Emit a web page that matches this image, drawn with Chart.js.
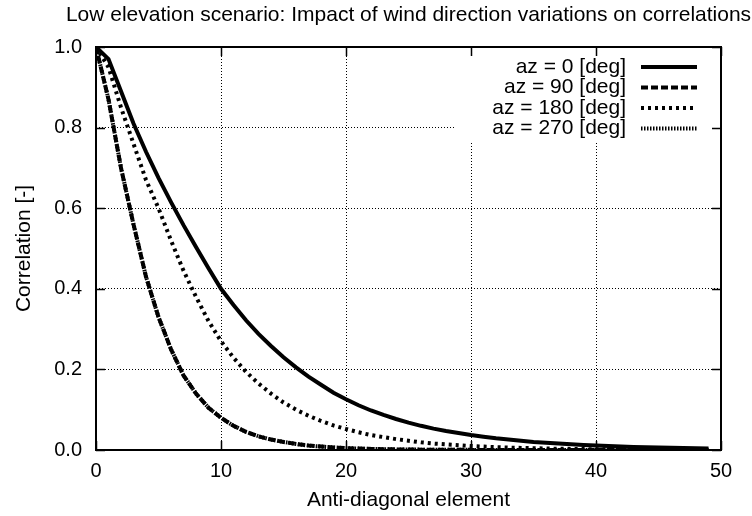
<!DOCTYPE html>
<html>
<head>
<meta charset="utf-8">
<script src="https://cdn.jsdelivr.net/npm/chart.js@4/dist/chart.umd.min.js"></script>
<style>
  html, body { margin: 0; padding: 0; background: #fff; }
  #wrap { width: 752px; height: 516px; }
</style>
</head>
<body>
<div id="wrap"><canvas id="corrChart" width="752" height="516"></canvas></div>
<script>
// Low elevation scenario: correlation vs anti-diagonal element, one series per wind azimuth
const chartTitle = 'Low elevation scenario: Impact of wind direction variations on correlations';
const elements = [0, 1, 2, 3, 4, 5, 6, 7, 8, 9, 10, 11, 12, 13, 14, 15, 16, 17, 18, 19,
  20, 21, 22, 23, 24, 25, 26, 27, 28, 29, 30, 31, 32, 33, 34, 35, 36, 37, 38, 39,
  40, 41, 42, 43, 44, 45, 46, 47, 48, 49];
const seriesLabels = ['az = 0 [deg]', 'az = 90 [deg]', 'az = 180 [deg]', 'az = 270 [deg]'];
const xTicks = [0, 10, 20, 30, 40, 50];
const yTicks = [0.0, 0.2, 0.4, 0.6, 0.8, 1.0];

const az0 = [1.0, 0.97, 0.89, 0.81, 0.74, 0.675, 0.615, 0.558, 0.504, 0.451, 0.40, 0.36, 0.322, 0.288, 0.258, 0.23, 0.205, 0.182, 0.162, 0.142,
  0.126, 0.111, 0.098, 0.087, 0.077, 0.068, 0.06, 0.053, 0.047, 0.042, 0.037, 0.033, 0.029, 0.026, 0.023, 0.020, 0.018, 0.016, 0.014, 0.0125,
  0.011, 0.0098, 0.0087, 0.0077, 0.0068, 0.006, 0.0054, 0.0048, 0.0042, 0.0037];
const az90 = [1.0, 0.87, 0.70, 0.56, 0.43, 0.33, 0.25, 0.185, 0.14, 0.105, 0.08, 0.06, 0.045, 0.034, 0.026, 0.02, 0.015, 0.011, 0.0085, 0.0064,
  0.0048, 0.0036, 0.0027, 0.002, 0.0015, 0.0011, 0.0009, 0.0007, 0.0005, 0.0004, 0.0003, 0.0002, 0.0002, 0.0001, 0.0001, 0.0001, 0, 0, 0, 0,
  0, 0, 0, 0, 0, 0, 0, 0, 0, 0];
const az180 = [1.0, 0.95, 0.85, 0.76, 0.67, 0.60, 0.52, 0.445, 0.38, 0.32, 0.27, 0.229, 0.194, 0.165, 0.14, 0.118, 0.10, 0.085, 0.072, 0.061,
  0.052, 0.044, 0.037, 0.032, 0.027, 0.023, 0.019, 0.016, 0.014, 0.012, 0.010, 0.0085, 0.0072, 0.0061, 0.0052, 0.0044, 0.0037, 0.0031, 0.0027, 0.0023,
  0.0019, 0.0016, 0.0014, 0.0012, 0.001, 0.0008, 0.0007, 0.0006, 0.0005, 0.0004];
const az270 = [1.0, 0.87, 0.70, 0.56, 0.43, 0.33, 0.25, 0.185, 0.14, 0.105, 0.08, 0.06, 0.045, 0.034, 0.026, 0.02, 0.015, 0.011, 0.0085, 0.0064,
  0.0048, 0.0036, 0.0027, 0.002, 0.0015, 0.0011, 0.0009, 0.0007, 0.0005, 0.0004, 0.0003, 0.0002, 0.0002, 0.0001, 0.0001, 0.0001, 0, 0, 0, 0,
  0, 0, 0, 0, 0, 0, 0, 0, 0, 0];

const FONT = 'Liberation Sans, Arial, sans-serif';
const FS_TEXT = 21;   // title, axis titles, key
const FS_TICK = 20;

function toPoints(vals) {
  return elements.map((e, i) => ({ x: e, y: vals[i] }));
}

// gnuplot-like look: title, opaque key at top right, frame with inward tics
const gnuStyle = {
  id: 'gnuStyle',
  afterDatasetsDraw(chart) {
    const ctx = chart.ctx;
    const a = chart.chartArea;
    ctx.save();
    // opaque key
    ctx.fillStyle = '#fff';
    ctx.fillRect(455, 56, a.right - 455 - 1, 86);
    ctx.font = FS_TEXT + 'px ' + FONT;
    ctx.textAlign = 'right';
    ctx.textBaseline = 'middle';
    chart.data.datasets.forEach((ds, i) => {
      const y = 67 + i * 20.5;
      ctx.fillStyle = '#000';
      ctx.fillText(ds.label, 626, y);
      ctx.strokeStyle = '#000';
      ctx.lineWidth = ds.borderWidth;
      ctx.setLineDash(ds.borderDash || []);
      ctx.beginPath();
      ctx.moveTo(641, y);
      ctx.lineTo(697, y);
      ctx.stroke();
    });
    ctx.restore();
  },
  afterDraw(chart) {
    const ctx = chart.ctx;
    const a = chart.chartArea;
    const xs = chart.scales.x, ys = chart.scales.y;
    ctx.save();
    ctx.strokeStyle = '#000';
    ctx.lineWidth = 1.5;
    ctx.setLineDash([]);
    ctx.beginPath();
    xTicks.forEach(v => {
      const px = Math.round(xs.getPixelForValue(v)) + 0.5;
      ctx.moveTo(px, a.bottom); ctx.lineTo(px, a.bottom - 9);
      ctx.moveTo(px, a.top); ctx.lineTo(px, a.top + 9);
    });
    yTicks.forEach(v => {
      const py = Math.round(ys.getPixelForValue(v)) + 0.5;
      ctx.moveTo(a.left, py); ctx.lineTo(a.left + 9, py);
      ctx.moveTo(a.right, py); ctx.lineTo(a.right - 9, py);
    });
    ctx.stroke();
    ctx.lineWidth = 2;
    ctx.strokeRect(a.left, a.top, a.right - a.left, a.bottom - a.top);
    // title
    ctx.fillStyle = '#000';
    ctx.font = FS_TEXT + 'px ' + FONT;
    ctx.textAlign = 'center';
    ctx.textBaseline = 'middle';
    ctx.fillText(chartTitle, (a.left + a.right) / 2, 15);
    ctx.restore();
  }
};

new Chart(document.getElementById('corrChart'), {
  type: 'line',
  data: {
    datasets: [
      { label: seriesLabels[0], data: toPoints(az0), borderColor: '#000', borderWidth: 4, order: 3 },
      { label: seriesLabels[1], data: toPoints(az90), borderColor: '#000', borderWidth: 4, borderDash: [7, 3], order: 2 },
      { label: seriesLabels[2], data: toPoints(az180), borderColor: '#000', borderWidth: 4, borderDash: [3, 4], order: 1 },
      { label: seriesLabels[3], data: toPoints(az270), borderColor: '#000', borderWidth: 4, borderDash: [1.5, 1.5], order: 0 }
    ]
  },
  options: {
    responsive: false,
    animation: false,
    layout: { padding: { left: 0, right: 31, top: 47, bottom: 0 } },
    elements: { point: { radius: 0 }, line: { tension: 0, fill: false } },
    plugins: {
      legend: { display: false },
      tooltip: { enabled: false },
      title: { display: false }
    },
    scales: {
      x: {
        type: 'linear', min: 0, max: 50,
        afterFit: s => { s.height = 66; },
        afterBuildTicks: s => { s.ticks = xTicks.map(v => ({ value: v })); },
        ticks: { color: '#000', font: { family: FONT, size: FS_TICK }, padding: 9, maxRotation: 0 },
        grid: { color: '#000', lineWidth: 1, drawTicks: false },
        border: { display: false, dash: [1, 2] },
        title: { display: true, text: 'Anti-diagonal element', color: '#000', font: { family: FONT, size: FS_TEXT }, padding: { top: 0, bottom: 3 } }
      },
      y: {
        min: 0, max: 1,
        afterFit: s => { s.width = 96; },
        afterBuildTicks: s => { s.ticks = yTicks.map(v => ({ value: v })); },
        ticks: { color: '#000', font: { family: FONT, size: FS_TICK }, padding: 14, callback: v => v.toFixed(1) },
        grid: { color: '#000', lineWidth: 1, drawTicks: false },
        border: { display: false, dash: [1, 2] },
        title: { display: true, text: 'Correlation [-]', color: '#000', font: { family: FONT, size: FS_TEXT }, padding: { top: 12, bottom: 12 } }
      }
    }
  },
  plugins: [gnuStyle]
});
</script>
</body>
</html>
